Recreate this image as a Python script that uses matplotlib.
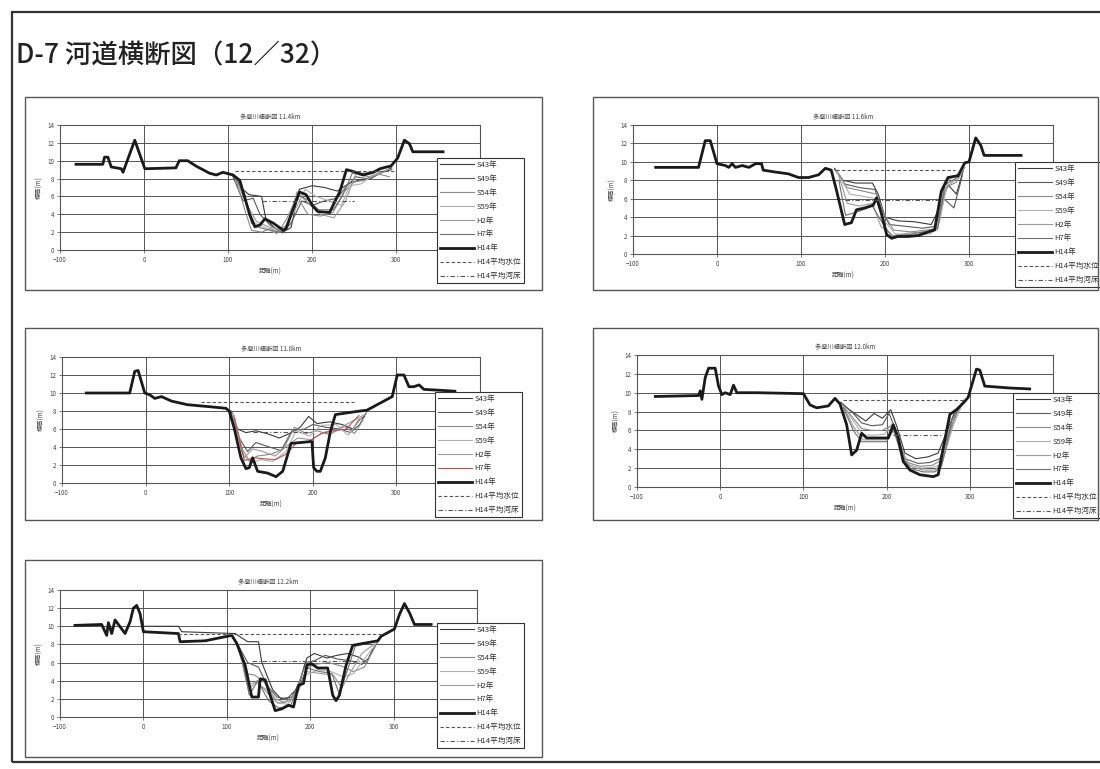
import matplotlib
matplotlib.use("Agg")
import matplotlib.pyplot as plt
from matplotlib.patches import Rectangle

plt.rcParams['font.family'] = ['Noto Sans CJK JP', 'DejaVu Sans']

W, H = 1100, 769

# ---------------- data ----------------
legend_labels = ['S43年', 'S49年', 'S54年', 'S59年', 'H2年', 'H7年', 'H14年', 'H14平均水位', 'H14平均河床']
panel_titles = ['多摩川横断図 11.4km', '多摩川横断図 11.6km', '多摩川横断図 11.8km',
                '多摩川横断図 12.0km', '多摩川横断図 12.2km']
x_ticks = [-100, 0, 100, 200, 300]
y_ticks = [0, 2, 4, 6, 8, 10, 12, 14]

# Panel 1
p1_h14_x = [-81, -49, -47, -43, -39, -27, -25, -11, 1, 38, 42, 52, 62, 78, 86, 94, 106, 114, 126, 132,
            138, 144, 154, 166, 169, 185, 193, 201, 207, 221, 227, 233, 241, 249, 261, 273, 281, 289,
            294, 302, 310, 316, 320, 356]
p1_h14_y = [9.6, 9.6, 10.4, 10.4, 9.3, 9.1, 8.7, 12.3, 9.1, 9.2, 10.0, 10.0, 9.4, 8.6, 8.4, 8.7, 8.4,
            7.8, 3.9, 2.6, 2.8, 3.5, 3.0, 2.2, 2.4, 6.5, 6.2, 4.9, 4.3, 4.2, 5.4, 6.5, 9.0, 8.8, 8.4,
            8.7, 9.1, 9.3, 9.4, 10.3, 12.3, 11.9, 11.0, 11.0]
p1_old_x = [
    [105, 115, 125, 140, 145, 155, 165, 175, 185, 200, 215, 230, 245, 255, 270, 285, 295],
    [105, 118, 130, 138, 150, 165, 175, 188, 200, 215, 230, 240, 252, 265, 280, 295],
    [108, 120, 128, 140, 150, 160, 170, 182, 195, 210, 225, 238, 250, 262, 280, 292],
    [110, 122, 132, 145, 158, 168, 180, 192, 205, 220, 235, 245, 258, 272, 290],
    [108, 118, 126, 134, 148, 160, 172, 182, 196, 210, 226, 240, 252, 268, 285],
    [110, 120, 128, 138, 150, 162, 170, 183, 195, 208, 225, 236, 248, 262, 280],
]
p1_old_y = [
    [8.5, 7.0, 6.2, 6.0, 3.5, 2.5, 2.0, 2.5, 6.8, 7.2, 7.0, 6.6, 7.5, 7.8, 8.0, 8.8, 9.2],
    [8.4, 5.5, 5.8, 4.0, 2.8, 1.9, 3.0, 5.5, 5.0, 5.5, 5.8, 7.0, 8.2, 8.0, 8.6, 9.0],
    [8.3, 4.5, 2.2, 2.0, 2.4, 2.0, 3.5, 6.0, 4.0, 3.8, 4.2, 6.5, 7.6, 7.8, 8.5, 8.2],
    [8.2, 5.0, 3.0, 2.5, 1.8, 2.6, 4.5, 6.8, 6.0, 5.5, 5.0, 7.2, 7.4, 8.3, 9.0],
    [8.3, 6.0, 4.5, 3.2, 2.6, 2.3, 2.8, 6.5, 5.2, 4.0, 3.6, 5.5, 8.5, 8.2, 8.8],
    [8.0, 6.2, 3.0, 2.5, 2.2, 2.0, 2.4, 6.2, 5.6, 4.5, 4.5, 6.0, 8.6, 8.6, 8.8],
]
p1_wl_x, p1_wl_y = [108, 298], [8.8, 8.8]
p1_bed_x, p1_bed_y = [140, 250], [5.5, 5.5]

# Panel 2
p2_h14_x = [-73, -22, -14, -8, 0, 10, 14, 18, 22, 30, 38, 46, 53, 55, 69, 85, 97, 109, 121, 129, 136,
            142, 152, 160, 166, 176, 186, 190, 196, 202, 208, 215, 227, 239, 255, 259, 267, 275, 287,
            295, 300, 308, 314, 318, 362]
p2_h14_y = [9.4, 9.4, 12.3, 12.3, 9.8, 9.6, 9.4, 9.8, 9.4, 9.6, 9.4, 9.8, 9.8, 9.1, 8.9, 8.7, 8.3,
            8.3, 8.6, 9.3, 9.1, 7.0, 3.2, 3.4, 4.8, 5.0, 5.3, 6.1, 4.3, 2.1, 1.7, 1.9, 1.9, 2.0, 2.5,
            2.6, 6.8, 8.3, 8.5, 9.9, 10.0, 12.6, 11.8, 10.7, 10.7]
p2_old_x = [
    [140, 150, 165, 185, 192, 200, 215, 235, 255, 265, 275, 285, 293],
    [140, 152, 170, 188, 195, 205, 225, 245, 260, 270, 282, 292],
    [142, 155, 175, 190, 198, 210, 230, 250, 262, 272, 285, 295],
    [142, 158, 178, 190, 200, 212, 235, 255, 265, 275, 290],
    [145, 155, 170, 185, 195, 210, 230, 250, 262, 270, 285],
    [145, 153, 168, 185, 196, 208, 228, 252, 263, 271, 288],
]
p2_old_y = [
    [9.3, 8.0, 7.7, 7.7, 6.5, 4.0, 3.6, 3.5, 3.2, 5.0, 7.5, 6.5, 9.0],
    [9.2, 7.6, 7.2, 7.0, 5.0, 3.2, 3.0, 2.8, 3.0, 6.0, 5.0, 8.5],
    [9.1, 7.2, 6.8, 6.5, 4.5, 2.6, 2.4, 2.6, 2.8, 7.2, 7.8, 9.4],
    [9.0, 6.5, 6.2, 6.0, 3.5, 2.2, 2.0, 2.2, 3.5, 8.0, 8.8],
    [8.5, 5.5, 5.2, 5.5, 3.0, 2.0, 2.3, 2.4, 2.6, 7.0, 8.2],
    [8.0, 4.2, 4.6, 5.2, 3.5, 1.9, 2.1, 2.5, 2.8, 7.5, 8.4],
]
p2_wl_x, p2_wl_y = [142, 283], [9.1, 9.1]
p2_bed_x, p2_bed_y = [152, 263], [5.9, 5.9]

# Panel 3
p3_h14_x = [-71, -19, -13, -9, -1, 5, 11, 19, 31, 50, 74, 96, 100, 106, 114, 120, 124, 128, 134, 146,
            156, 164, 174, 197, 199, 201, 205, 209, 215, 221, 227, 249, 265, 277, 289, 295, 301, 309,
            315, 321, 327, 333, 353, 370]
p3_h14_y = [10.0, 10.0, 12.4, 12.5, 10.0, 9.8, 9.4, 9.6, 9.1, 8.7, 8.5, 8.3, 8.0, 6.1, 2.8, 1.6, 1.7,
            2.8, 1.3, 1.1, 0.7, 1.3, 4.4, 4.6, 4.6, 1.7, 1.3, 1.3, 2.8, 5.7, 7.6, 7.9, 8.1, 8.7, 9.3,
            9.6, 12.0, 12.0, 10.7, 10.7, 10.9, 10.4, 10.3, 10.2]
p3_old_x = [
    [102, 110, 120, 132, 145, 160, 172, 185, 195, 205, 220, 235, 248, 255, 262],
    [102, 112, 122, 132, 148, 162, 175, 190, 200, 215, 232, 245, 256, 264],
    [104, 114, 124, 134, 150, 165, 178, 192, 205, 220, 238, 250, 260],
    [104, 116, 126, 138, 152, 168, 180, 196, 210, 228, 242, 258],
    [106, 118, 128, 140, 155, 170, 182, 198, 212, 230, 246, 262],
    [106, 118, 130, 140, 155, 168, 180, 195, 210, 225, 240, 255],
]
p3_old_y = [
    [8.0, 6.0, 5.6, 5.8, 5.5, 5.0, 5.5, 6.2, 7.4, 6.6, 6.8, 6.5, 6.0, 7.0, 7.4],
    [8.0, 5.0, 3.5, 4.5, 4.0, 3.6, 5.8, 6.0, 6.5, 6.2, 6.0, 5.6, 6.5, 7.8],
    [7.8, 4.0, 2.5, 3.0, 3.2, 3.8, 6.2, 5.5, 5.8, 5.4, 6.3, 5.5, 7.0],
    [7.6, 3.2, 2.2, 2.6, 2.4, 3.5, 5.8, 5.2, 6.4, 6.5, 5.3, 7.2],
    [7.5, 2.8, 3.8, 3.5, 3.0, 4.2, 5.0, 4.8, 5.6, 6.0, 6.8, 7.6],
    [7.2, 2.5, 2.8, 2.7, 2.6, 3.2, 4.4, 4.6, 5.5, 5.8, 6.0, 7.5],
]
p3_wl_x, p3_wl_y = [66, 249], [9.0, 9.0]
p3_bed_x, p3_bed_y = [128, 200], [5.7, 5.7]

# Panel 4
p4_h14_x = [-78, -26, -24, -22, -18, -14, -6, -2, 2, 6, 12, 16, 20, 44, 100, 108, 116, 130, 138, 144,
            152, 158, 164, 170, 176, 202, 208, 214, 220, 228, 240, 256, 262, 268, 276, 284, 292, 298,
            304, 308, 312, 318, 348, 372]
p4_h14_y = [9.6, 9.7, 10.2, 9.3, 11.6, 12.6, 12.6, 10.7, 9.8, 10.0, 9.8, 10.8, 10.0, 10.0, 9.9, 8.7,
            8.4, 8.6, 9.4, 8.8, 6.6, 3.4, 3.9, 5.7, 5.2, 5.2, 6.6, 5.2, 2.7, 1.8, 1.3, 1.1, 1.3, 4.1,
            7.7, 8.2, 8.9, 9.5, 11.3, 12.5, 12.4, 10.7, 10.5, 10.4]
p4_old_x = [
    [145, 155, 165, 175, 185, 195, 205, 212, 222, 235, 250, 262, 272, 282, 292],
    [145, 158, 170, 182, 195, 203, 212, 222, 238, 252, 264, 276, 288],
    [146, 158, 170, 182, 195, 205, 214, 225, 240, 255, 265, 278, 290],
    [146, 160, 172, 185, 198, 207, 215, 226, 242, 256, 266, 280, 292],
    [148, 160, 172, 186, 200, 208, 216, 228, 244, 258, 267, 282, 293],
    [148, 160, 170, 186, 200, 209, 217, 228, 244, 258, 266, 279, 292],
]
p4_old_y = [
    [9.0, 8.2, 7.6, 7.0, 7.8, 7.3, 8.2, 6.5, 3.6, 3.0, 3.2, 3.6, 5.8, 8.0, 9.0],
    [8.9, 8.0, 6.8, 6.5, 6.6, 7.8, 5.8, 3.0, 2.5, 2.6, 3.0, 6.0, 8.6],
    [8.8, 7.5, 6.2, 6.0, 6.0, 6.5, 5.0, 2.6, 2.2, 2.3, 2.8, 7.0, 8.8],
    [8.8, 7.0, 5.5, 5.5, 5.6, 6.8, 4.5, 2.4, 2.0, 2.1, 2.4, 6.5, 9.0],
    [8.6, 6.4, 5.0, 5.0, 5.0, 6.0, 4.0, 2.2, 1.8, 1.8, 2.6, 7.5, 9.2],
    [8.4, 6.0, 4.8, 4.8, 4.8, 6.2, 3.5, 2.0, 1.6, 1.6, 2.2, 7.2, 9.0],
]
p4_wl_x, p4_wl_y = [148, 292], [9.2, 9.2]
p4_bed_x, p4_bed_y = [208, 268], [5.5, 5.5]

# Panel 5
p5_h14_x = [-82, -50, -44, -42, -38, -34, -30, -22, -16, -12, -8, -4, 0, 42, 44, 74, 106, 112, 122,
            130, 138, 140, 146, 158, 166, 174, 180, 186, 192, 196, 201, 209, 221, 227, 231, 235, 243,
            251, 281, 285, 293, 301, 307, 313, 319, 325, 345]
p5_h14_y = [10.1, 10.2, 9.0, 10.4, 9.2, 10.7, 10.2, 9.2, 10.5, 12.0, 12.3, 11.4, 9.4, 9.2, 8.3, 8.4,
            9.0, 8.1, 5.7, 2.2, 2.2, 4.2, 4.1, 0.7, 0.9, 1.3, 1.1, 3.5, 3.7, 5.7, 5.9, 5.4, 5.4, 2.4,
            1.8, 2.4, 5.7, 7.9, 8.4, 8.9, 9.3, 9.7, 11.3, 12.5, 11.5, 10.2, 10.2]
p5_old_x = [
    [0, 42, 46, 110, 125, 138, 142, 155, 165, 178, 188, 196, 205, 220, 232, 245, 258, 268, 275, 285],
    [112, 125, 138, 148, 160, 172, 185, 194, 205, 218, 232, 248, 262, 270, 282],
    [112, 122, 134, 145, 158, 170, 182, 192, 205, 222, 238, 252, 265, 278],
    [114, 124, 134, 148, 160, 172, 184, 194, 210, 225, 240, 252, 265, 280],
    [114, 126, 136, 150, 162, 176, 186, 196, 212, 228, 238, 250, 262, 276],
    [116, 127, 137, 150, 162, 176, 186, 196, 212, 226, 235, 244, 254, 280],
]
p5_old_y = [
    [10.0, 10.0, 9.4, 9.2, 8.3, 8.3, 6.0, 3.0, 2.0, 2.2, 4.0, 6.5, 7.0, 6.5, 6.8, 7.0, 6.6, 6.0, 7.5, 8.8],
    [8.2, 6.0, 5.5, 3.5, 2.2, 2.0, 3.2, 6.0, 6.2, 6.8, 6.4, 6.2, 5.8, 6.5, 8.5],
    [8.1, 4.8, 4.6, 3.8, 2.0, 1.6, 2.6, 5.2, 5.8, 6.0, 5.6, 5.0, 5.5, 7.8],
    [8.0, 3.6, 3.8, 3.0, 1.6, 1.4, 2.4, 4.6, 5.2, 5.0, 4.4, 4.8, 6.4, 8.2],
    [7.8, 3.0, 4.0, 2.5, 1.5, 1.8, 3.0, 5.0, 4.8, 4.6, 3.2, 5.2, 7.0, 8.0],
    [7.5, 2.4, 4.0, 1.8, 1.0, 1.2, 3.2, 5.4, 5.0, 4.8, 2.5, 5.0, 7.8, 8.4],
]
p5_wl_x, p5_wl_y = [42, 289], [9.1, 9.1]
p5_bed_x, p5_bed_y = [130, 265], [6.2, 6.2]

# ---------------- styling / layout ----------------
old_colors = ['#3a3a3a', '#5a5a5a', '#8a8a8a', '#b0b0b0', '#9a9a9a', '#707070']

panels = [
    dict(h14=(p1_h14_x, p1_h14_y), old=(p1_old_x, p1_old_y), wl=(p1_wl_x, p1_wl_y), bed=(p1_bed_x, p1_bed_y),
         plot=(60, 125, 480, 250), box=(25, 97, 542, 290), leg=(437, 158), h7='#707070'),
    dict(h14=(p2_h14_x, p2_h14_y), old=(p2_old_x, p2_old_y), wl=(p2_wl_x, p2_wl_y), bed=(p2_bed_x, p2_bed_y),
         plot=(633, 125, 1053, 254), box=(593, 97, 1098, 290), leg=(1015, 162), h7='#707070'),
    dict(h14=(p3_h14_x, p3_h14_y), old=(p3_old_x, p3_old_y), wl=(p3_wl_x, p3_wl_y), bed=(p3_bed_x, p3_bed_y),
         plot=(62, 357, 480, 483), box=(25, 328, 542, 520), leg=(435, 392), h7='#c05050'),
    dict(h14=(p4_h14_x, p4_h14_y), old=(p4_old_x, p4_old_y), wl=(p4_wl_x, p4_wl_y), bed=(p4_bed_x, p4_bed_y),
         plot=(637, 355, 1053, 487), box=(593, 328, 1098, 520), leg=(1013, 393), h7='#707070'),
    dict(h14=(p5_h14_x, p5_h14_y), old=(p5_old_x, p5_old_y), wl=(p5_wl_x, p5_wl_y), bed=(p5_bed_x, p5_bed_y),
         plot=(60, 590, 477, 717), box=(25, 560, 542, 757), leg=(437, 623), h7='#707070'),
]

fig = plt.figure(figsize=(W / 100, H / 100), dpi=100)
fig.patch.set_facecolor('white')


def fx(px):
    return px / W


def fy(py):
    return 1 - py / H


# document frame
fig.add_artist(Rectangle((fx(12), fy(762)), fx(1110) - fx(12), fy(12) - fy(762),
                         transform=fig.transFigure, fill=False, edgecolor='#333333', lw=1.6))
fig.text(fx(16), fy(56), 'D-7 河道横断図（12／32）', fontsize=19, color='#222222', weight='medium',
         ha='left', va='center', family=['Noto Sans CJK JP', 'DejaVu Sans'])

for i, p in enumerate(panels):
    bx0, by0, bx1, by1 = p['box']
    fig.add_artist(Rectangle((fx(bx0), fy(by1)), fx(bx1) - fx(bx0), fy(by0) - fy(by1),
                             transform=fig.transFigure, fill=False, edgecolor='#555555', lw=1.0))
    x0, y0, x1, y1 = p['plot']
    ax = fig.add_axes([fx(x0), fy(y1), fx(x1) - fx(x0), fy(y0) - fy(y1)])
    ax.set_xlim(-100, 400)
    ax.set_ylim(0, 14)
    ax.set_xticks(x_ticks)
    ax.set_yticks(y_ticks)
    ax.grid(True, color='#555555', lw=0.7)
    ax.set_axisbelow(True)
    for s in ax.spines.values():
        s.set_color('#555555')
        s.set_linewidth(0.8)
    ax.tick_params(labelsize=4.5, length=2, width=0.5, colors='#444444', pad=2)

    handles = []
    ox, oy = p['old']
    for k in range(6):
        c = old_colors[k] if k != 5 else p['h7']
        ln, = ax.plot(ox[k], oy[k], color=c, lw=0.8)
        handles.append(ln)
    hx, hy = p['h14']
    ln, = ax.plot(hx, hy, color='#1a1a1a', lw=2.0)
    handles.append(ln)
    wx, wy = p['wl']
    ln, = ax.plot(wx, wy, color='#555555', lw=0.8, ls=(0, (3, 2)))
    handles.append(ln)
    bxs, bys = p['bed']
    ln, = ax.plot(bxs, bys, color='#555555', lw=0.8, ls=(0, (4, 2, 1, 2)))
    handles.append(ln)

    ax.set_title(panel_titles[i], fontsize=4.5, color='#444444', pad=5)
    ax.set_xlabel('距離(m)', fontsize=4.5, color='#444444', labelpad=3)
    ax.set_ylabel('標高(m)', fontsize=4.5, color='#444444', labelpad=3)

    lx, ly = p['leg']
    leg = ax.legend(handles, legend_labels, loc='upper left',
                    bbox_to_anchor=(fx(lx), fy(ly)), bbox_transform=fig.transFigure,
                    borderaxespad=0, fontsize=5.5, frameon=True, fancybox=False,
                    framealpha=1, edgecolor='#333333', handlelength=4.5, handletextpad=0.3,
                    labelspacing=0.78, borderpad=0.35)
    leg.get_frame().set_linewidth(0.8)
    leg.set_zorder(10)
    for t in leg.get_texts():
        t.set_color('#333333')

fig.savefig('out.png', dpi=100, facecolor='white')
